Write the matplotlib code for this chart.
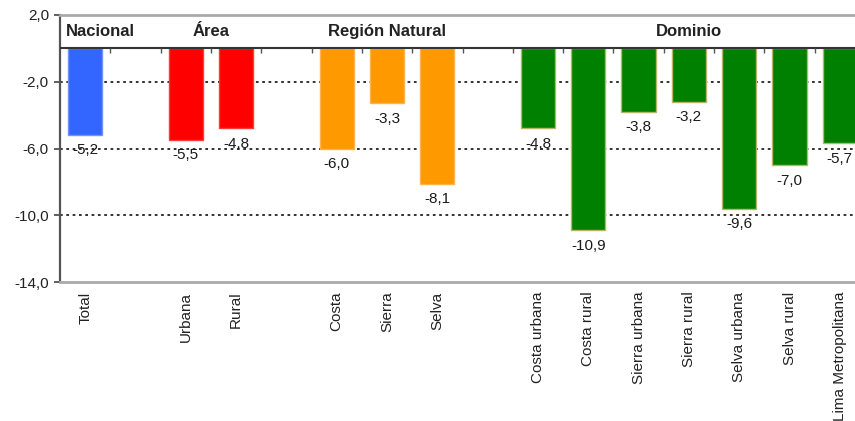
import matplotlib
matplotlib.use("Agg")
import matplotlib.pyplot as plt

plt.rcParams['font.family'] = ['Liberation Sans', 'DejaVu Sans']

# Groups of categories and their values (variation, %)
groups = ["Nacional", "Área", "Región Natural", "Dominio"]
nacional_cats = ["Total"]
nacional_vals = [-5.2]
area_cats = ["Urbana", "Rural"]
area_vals = [-5.5, -4.8]
region_cats = ["Costa", "Sierra", "Selva"]
region_vals = [-6.0, -3.3, -8.1]
dominio_cats = ["Costa urbana", "Costa rural", "Sierra urbana", "Sierra rural",
                "Selva urbana", "Selva rural", "Lima Metropolitana"]
dominio_vals = [-4.8, -10.9, -3.8, -3.2, -9.6, -7.0, -5.7]

y_ticks = [2, -2, -6, -10, -14]
y_tick_labels = ["2,0", "-2,0", "-6,0", "-10,0", "-14,0"]

group_cats = [nacional_cats, area_cats, region_cats, dominio_cats]
group_vals = [nacional_vals, area_vals, region_vals, dominio_vals]
fills = ["#3366FF", "#FF0000", "#FF9900", "#008000"]
edges = ["#6F94FF", "#FF3A3A", "#FFB24D", "#B8B46A"]

fig = plt.figure(figsize=(8.55, 4.21), dpi=100)
# axes runs slightly past the right edge of the figure
ax = fig.add_axes([60 / 855, 139 / 421, 805 / 855, 267 / 421])

positions, labels = [], []
group_centers = []
pos = 0
for cats, vals, fc, ec in zip(group_cats, group_vals, fills, edges):
    xs = list(range(pos, pos + len(cats)))
    ax.bar(xs, vals, width=0.68, color=fc, edgecolor=ec, linewidth=1.0, zorder=2)
    for x, v in zip(xs, vals):
        ax.annotate(f"{v:.1f}".replace(".", ","), (x, v), xytext=(0, -6),
                    textcoords="offset points", ha="center", va="top",
                    fontsize=11, color="#1a1a1a", zorder=4)
    positions += xs
    labels += cats
    group_centers.append((xs[0] + xs[-1]) / 2)
    pos += len(cats) + 1

n_slots = pos - 1
ax.set_xlim(-0.5, n_slots - 0.5)
ax.set_ylim(-14, 2)

# group headers in the band above zero
for i, (name, cx) in enumerate(zip(groups, group_centers)):
    if i == 0:
        ax.annotate(name, (-0.5, 1.0), xytext=(4, 0), textcoords="offset points",
                    ha="left", va="center", fontsize=12, fontweight="bold",
                    color="#222222")
    else:
        ax.text(cx, 1.0, name, ha="center", va="center", fontsize=12,
                fontweight="bold", color="#222222")

# dotted gridlines
for yv in [-2, -6, -10]:
    ax.axhline(yv, color="#222222", linestyle=(0, (1.5, 2.0)), linewidth=1.3, zorder=1)

# zero baseline with small separator ticks between category slots
ax.axhline(0, color="#333333", linewidth=1.5, zorder=3)
ax.vlines([k + 0.5 for k in range(n_slots - 1)], -0.3, 0,
          color="#555555", linewidth=1.0, zorder=3)

ax.set_xticks(positions)
ax.set_xticklabels(labels, rotation=90, fontsize=11, color="#222222")
ax.tick_params(axis="x", length=0, pad=7)

ax.set_yticks(y_ticks)
ax.set_yticklabels(y_tick_labels, fontsize=11, color="#222222")
ax.tick_params(axis="y", length=4, width=1.2, color="#444444", pad=4)

ax.spines["left"].set_color("#555555")
ax.spines["left"].set_linewidth(1.6)
ax.spines["top"].set_color("#AAAAAA")
ax.spines["top"].set_linewidth(2.0)
ax.spines["bottom"].set_color("#AAAAAA")
ax.spines["bottom"].set_linewidth(2.0)
ax.spines["right"].set_visible(False)

fig.savefig("out.png", dpi=100, facecolor="white")
